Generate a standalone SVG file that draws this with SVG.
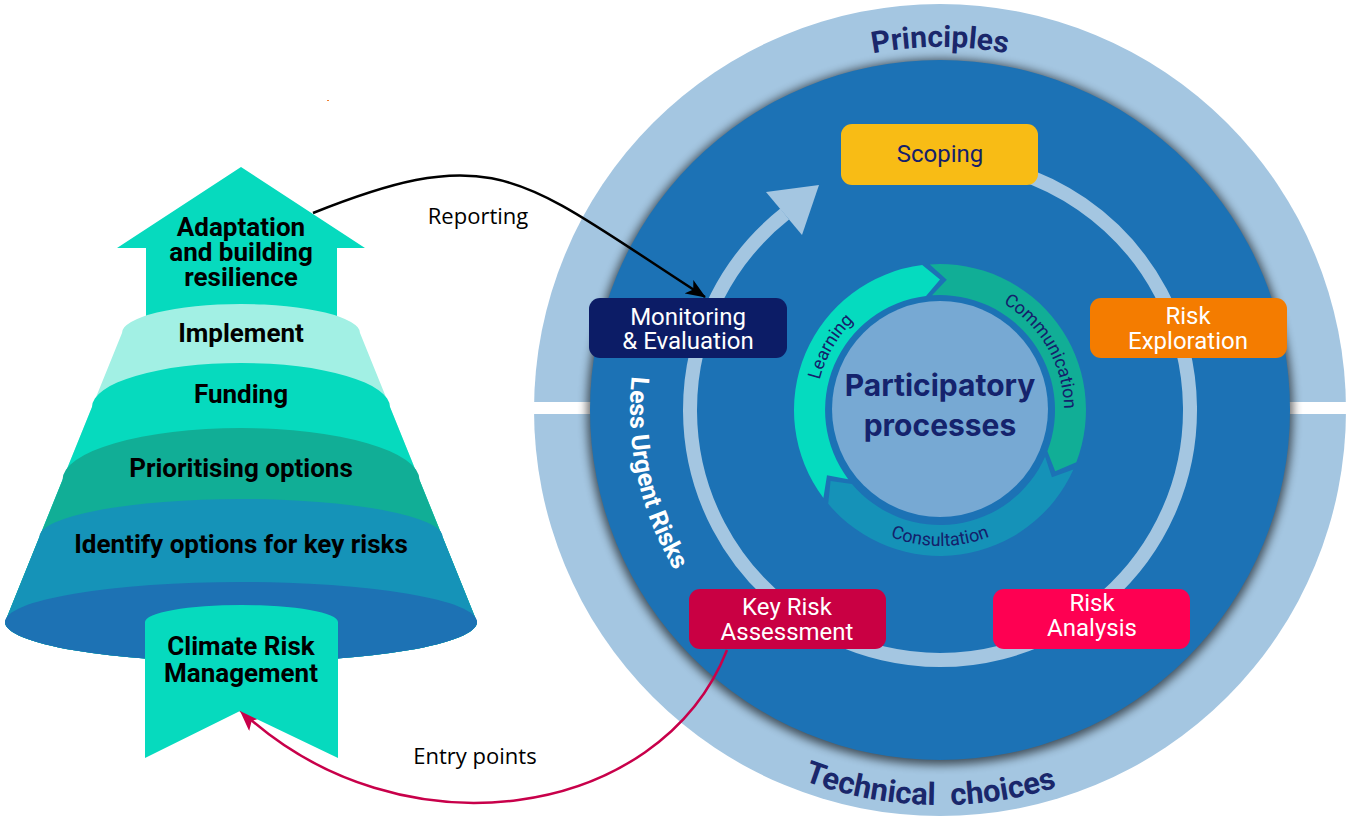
<svg xmlns="http://www.w3.org/2000/svg" width="1352" height="819" viewBox="0 0 1352 819">
<defs>
<style>
.fun{font-family:Roboto,"Liberation Sans",sans-serif;font-weight:700;font-size:26px;fill:#000;text-anchor:middle}
.nl{font-family:Roboto,"Liberation Sans",sans-serif;font-size:24px;fill:#fff;text-anchor:middle}
.arcl{font-family:Roboto,"Liberation Sans",sans-serif;font-size:18px;fill:#14206b;text-anchor:middle}
.ringt{font-family:Roboto,"Liberation Sans",sans-serif;font-weight:700;fill:#1a276b;text-anchor:middle}
.pp{font-family:Inter,Roboto,"Liberation Sans",sans-serif;font-weight:700;font-size:30px;fill:#15236d;text-anchor:middle}
.lbl{font-family:"Open Sans","Liberation Sans",sans-serif;font-size:22px;fill:#000;text-anchor:middle}
.track{fill:none;stroke:#a4c6e1;stroke-width:14}
</style>
<filter id="sh" x="-10%" y="-10%" width="120%" height="120%"><feGaussianBlur stdDeviation="5"/></filter>
<marker id="ahB" viewBox="0 0 20 16" refX="19" refY="8" markerUnits="userSpaceOnUse" markerWidth="20" markerHeight="16" orient="auto"><path d="M0,0 L20,8 L0,16 L5,8 Z" fill="#000"/></marker>
<marker id="ahR" viewBox="0 0 22 18" refX="21" refY="9" markerUnits="userSpaceOnUse" markerWidth="22" markerHeight="18" orient="auto"><path d="M0,0 L22,9 L0,18 L5,9 Z" fill="#c8004a"/></marker>
<path id="pPrin" d="M577,410 A363,363 0 0 1 1303,410"/>
<path id="pTech" d="M545,410 A395,395 0 0 0 1335,410"/>
<path id="pLess" d="M740.7,172.5 A310,310 0 0 0 834,701.3"/>
<path id="pLearn" d="M878,517.4 A124,124 0 0 1 1002,302.6"/>
<path id="pComm" d="M878,302.6 A124,124 0 0 1 1002,517.4"/>
<path id="pCons" d="M804,410 A136,136 0 0 0 1076,410"/>
</defs>
<rect width="1352" height="819" fill="#fff"/>
<rect x="327" y="100" width="2" height="1" fill="#f08030"/>

<g id="frame">
<circle cx="940" cy="410" r="406" fill="#a4c6e1"/>
<rect x="530" y="402" width="822" height="12" fill="#fff"/>
<circle cx="940" cy="412" r="353" fill="#000" opacity="0.6" filter="url(#sh)"/>
<circle cx="940" cy="410" r="350" fill="#1c72b5"/>
<text class="ringt" font-size="30"><textPath href="#pPrin" startOffset="50%">Principles</textPath></text>
<text class="ringt" font-size="31"><textPath href="#pTech" startOffset="610">Technical&#160; choices</textPath></text>
<text class="ringt" font-size="25" style="fill:#fff"><textPath href="#pLess" startOffset="338">Less Urgent Risks</textPath></text>
</g>

<g id="connectors">
<path class="track" d="M983.4,163.8 A250,250 0 1 1 784.7,214.1"/>
<polygon points="819,185 766,192 802,235" fill="#a4c6e1"/>
<path d="M313,213 C498.6,138.8 520,178 705,297" fill="none" stroke="#000" stroke-width="2.5" marker-end="url(#ahB)"/>
<text class="lbl" x="478" y="224">Reporting</text>
<path d="M727,650 C660,820 400,860 240,710" fill="none" stroke="#c8004a" stroke-width="2.5" marker-end="url(#ahR)"/>
<text class="lbl" x="475" y="764">Entry points</text>
</g>

<g id="participatory">
<path d="M823.4,497.9 A146,146 0 0 1 922.2,265.1 L940,279.5 L926,295.9 A115,115 0 0 0 848.2,479.2 L827,475.3 Z" fill="#05dbbf"/>
<path d="M929.8,264.4 A146,146 0 0 1 1076.3,462.3 L1055.2,471.3 L1047.4,451.2 A115,115 0 0 0 932,295.3 L946.8,279.7 Z" fill="#11ae96"/>
<path d="M1073.4,469.4 A146,146 0 0 1 828.2,503.8 L830.6,481.1 L851.9,483.9 A115,115 0 0 0 1045.1,456.8 L1051.9,477.2 Z" fill="#1592b8"/>
<circle cx="940" cy="409" r="108" fill="#77a9d3"/>
<text class="arcl"><textPath href="#pLearn" startOffset="50%">Learning</textPath></text>
<text class="arcl"><textPath href="#pComm" startOffset="50%">Communication</textPath></text>
<text class="arcl"><textPath href="#pCons" startOffset="50%">Consultation</textPath></text>
<text class="pp" x="940" y="396">Participatory</text>
<text class="pp" x="940" y="436">processes</text>
</g>

<g id="scoping">
<rect x="841" y="124" width="197" height="61" rx="11" fill="#f8bc15"/>
<text class="nl" x="940" y="162" style="fill:#14206b">Scoping</text>
</g>
<g id="risk-exploration">
<rect x="1090" y="298" width="197" height="60" rx="11" fill="#f47c00"/>
<text class="nl" x="1188" y="324">Risk</text>
<text class="nl" x="1188" y="349">Exploration</text>
</g>
<g id="risk-analysis">
<rect x="993" y="589" width="197" height="60" rx="11" fill="#fe0052"/>
<text class="nl" x="1092" y="611">Risk</text>
<text class="nl" x="1092" y="636">Analysis</text>
</g>
<g id="key-risk-assessment">
<rect x="689" y="589" width="197" height="60" rx="11" fill="#c90043"/>
<text class="nl" x="787" y="615">Key Risk</text>
<text class="nl" x="787" y="640">Assessment</text>
</g>
<g id="monitoring-evaluation">
<rect x="589" y="298" width="198" height="60" rx="11" fill="#0c1c66"/>
<text class="nl" x="688" y="325">Monitoring</text>
<text class="nl" x="688" y="349">&amp; Evaluation</text>
</g>

<g id="funnel">
<polygon id="adaptation" points="241,167 365,248 337,248 337,330 146,330 146,248 117,248" fill="#06dabe"/>
<path d="M122,333 A119,29 0 0 1 360,333 L477,622 A236,40 0 0 1 5,622 Z" fill="#a2f0e4"/>
<path d="M92,407 A149,44 0 0 1 390,407 L477,622 A236,40 0 0 1 5,622 Z" fill="#06dabe"/>
<path d="M62.5,480 A178.5,52 0 0 1 419.5,480 L477,622 A236,40 0 0 1 5,622 Z" fill="#11ae96"/>
<path d="M39.4,537 A201.6,38 0 0 1 442.6,537 L477,622 A236,40 0 0 1 5,622 Z" fill="#1593b8"/>
<ellipse cx="241" cy="622" rx="236" ry="40" fill="#1d72b4"/>
<text class="fun" x="241" y="236">Adaptation</text>
<text class="fun" x="241" y="261">and building</text>
<text class="fun" x="241" y="286">resilience</text>
<text class="fun" x="241" y="342">Implement</text>
<text class="fun" x="241" y="403">Funding</text>
<text class="fun" x="241" y="477">Prioritising options</text>
<text class="fun" x="241" y="553">Identify options for key risks</text>
</g>
<g id="climate-risk-management">
<path d="M145,622 A96.5,17 0 0 1 338,622 L338,758 L240,711 L145,758 Z" fill="#06dabe"/>
<text class="fun" x="241" y="655">Climate Risk</text>
<text class="fun" x="241" y="682">Management</text>
</g>
</svg>
